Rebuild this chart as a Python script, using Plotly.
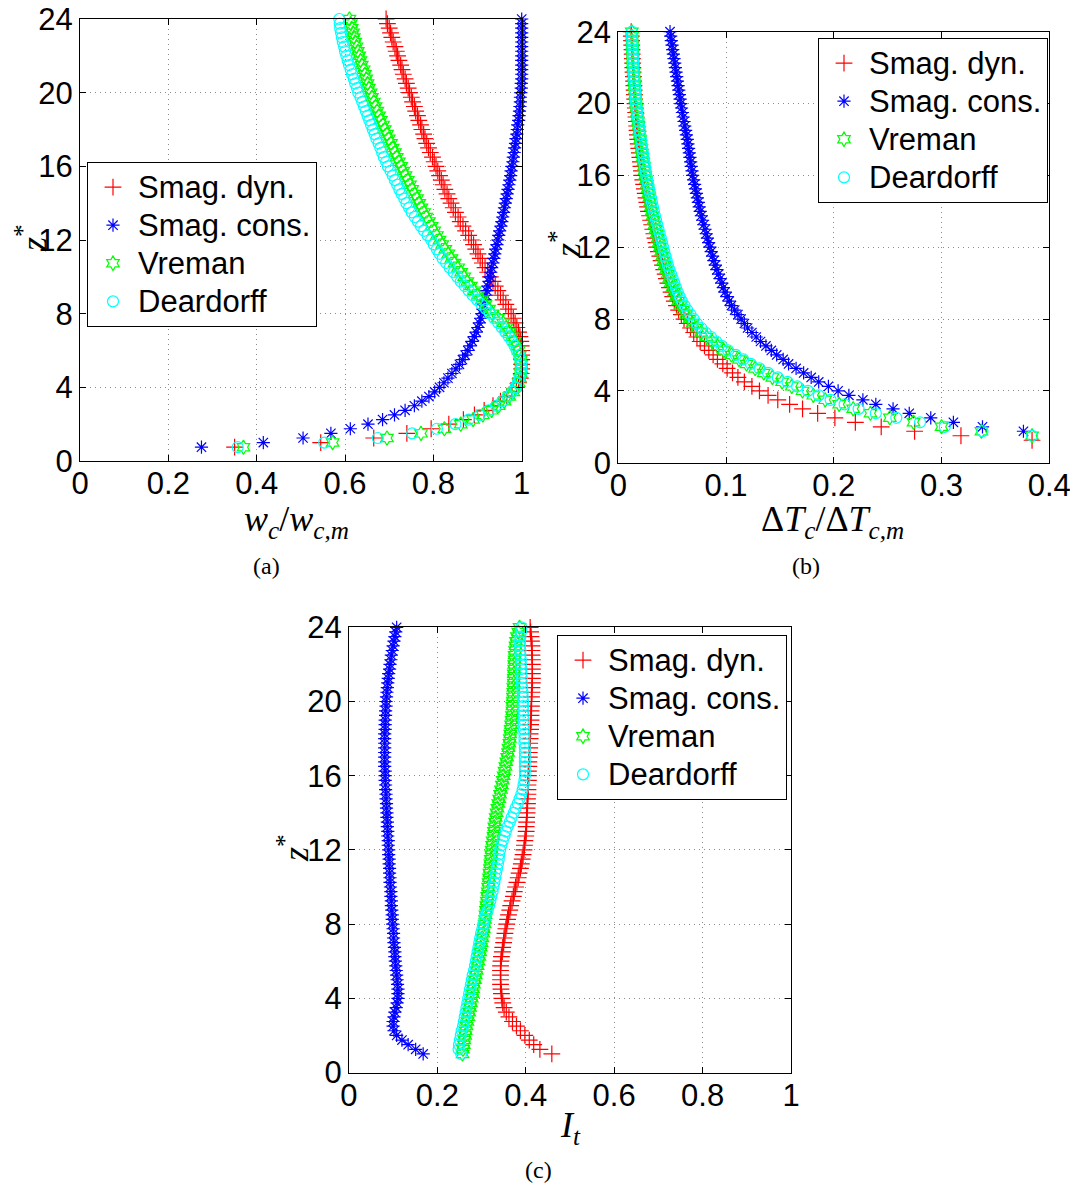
import plotly.graph_objects as go

# ---------------- data ----------------
z_levels = [0.75, 1.0, 1.25, 1.5, 1.75, 2.0, 2.25, 2.5, 2.75, 3.0, 3.25, 3.5, 3.75, 4.0,
            4.25, 4.5, 4.75, 5.0, 5.25, 5.5, 5.75, 6.0,
            6.25, 6.5, 6.75, 7.0, 7.25, 7.5, 7.75, 8.0,
            8.25, 8.5, 8.75, 9.0, 9.25, 9.5, 9.75, 10.0,
            10.25, 10.5, 10.75, 11.0, 11.25, 11.5, 11.75, 12.0,
            12.25, 12.5, 12.75, 13.0, 13.25, 13.5, 13.75, 14.0,
            14.25, 14.5, 14.75, 15.0, 15.25, 15.5, 15.75, 16.0,
            16.25, 16.5, 16.75, 17.0, 17.25, 17.5, 17.75, 18.0,
            18.25, 18.5, 18.75, 19.0, 19.25, 19.5, 19.75, 20.0,
            20.25, 20.5, 20.75, 21.0, 21.25, 21.5, 21.75, 22.0,
            22.25, 22.5, 22.75, 23.0, 23.25, 23.5, 23.75, 24.0]

series_names = ["Smag. dyn.", "Smag. cons.", "Vreman", "Deardorff"]

# (a) w_c / w_c,m
wc_dyn = [0.350, 0.545, 0.665, 0.740, 0.795, 0.835, 0.868, 0.893, 0.915, 0.935, 0.952, 0.966, 0.978, 0.988,
          0.993, 0.997, 0.999, 1.000, 1.000, 1.000, 1.000, 1.000,
          0.999, 0.998, 0.996, 0.993, 0.989, 0.985, 0.981, 0.976,
          0.970, 0.964, 0.958, 0.952, 0.946, 0.940, 0.935, 0.929,
          0.923, 0.917, 0.911, 0.906, 0.901, 0.896, 0.891, 0.886,
          0.880, 0.873, 0.867, 0.861, 0.856, 0.850, 0.845, 0.840,
          0.835, 0.831, 0.826, 0.822, 0.818, 0.814, 0.810, 0.806,
          0.802, 0.798, 0.793, 0.789, 0.785, 0.781, 0.778, 0.774,
          0.771, 0.767, 0.764, 0.760, 0.757, 0.753, 0.750, 0.746,
          0.743, 0.739, 0.736, 0.732, 0.729, 0.726, 0.722, 0.719,
          0.716, 0.713, 0.709, 0.706, 0.703, 0.700, 0.696, 0.693]
wc_cons = [0.275, 0.415, 0.505, 0.568, 0.612, 0.652, 0.685, 0.712, 0.736, 0.757, 0.774, 0.790, 0.803, 0.814,
           0.824, 0.833, 0.842, 0.851, 0.859, 0.866, 0.872, 0.878,
           0.883, 0.888, 0.893, 0.897, 0.901, 0.904, 0.907, 0.910,
           0.912, 0.914, 0.917, 0.919, 0.921, 0.923, 0.926, 0.928,
           0.930, 0.932, 0.935, 0.937, 0.939, 0.941, 0.944, 0.946,
           0.948, 0.950, 0.953, 0.955, 0.957, 0.959, 0.961, 0.963,
           0.965, 0.967, 0.969, 0.971, 0.973, 0.975, 0.976, 0.978,
           0.980, 0.981, 0.983, 0.984, 0.986, 0.987, 0.989, 0.990,
           0.991, 0.993, 0.994, 0.995, 0.996, 0.997, 0.997, 0.998,
           0.999, 0.999, 1.000, 1.000, 1.000, 1.000, 1.000, 1.000,
           1.000, 1.000, 1.000, 1.000, 1.000, 1.000, 1.000, 1.000]
wc_vreman = [0.370, 0.572, 0.695, 0.772, 0.825, 0.862, 0.890, 0.912, 0.932, 0.948, 0.961, 0.972, 0.981, 0.988,
             0.993, 0.996, 0.998, 0.999, 0.999, 0.998, 0.996, 0.993,
             0.989, 0.984, 0.978, 0.972, 0.965, 0.958, 0.946, 0.934,
             0.926, 0.918, 0.910, 0.901, 0.893, 0.885, 0.877, 0.870,
             0.863, 0.856, 0.848, 0.841, 0.834, 0.827, 0.820, 0.814,
             0.808, 0.802, 0.796, 0.790, 0.784, 0.779, 0.773, 0.768,
             0.763, 0.758, 0.752, 0.747, 0.742, 0.737, 0.732, 0.727,
             0.722, 0.717, 0.713, 0.708, 0.704, 0.699, 0.695, 0.690,
             0.686, 0.681, 0.677, 0.673, 0.669, 0.665, 0.661, 0.658,
             0.654, 0.651, 0.648, 0.645, 0.642, 0.638, 0.635, 0.632,
             0.629, 0.626, 0.623, 0.620, 0.618, 0.615, 0.613, 0.610]
wc_deard = [0.357, 0.553, 0.674, 0.752, 0.808, 0.850, 0.880, 0.905, 0.925, 0.942, 0.956, 0.968, 0.978, 0.986,
            0.991, 0.995, 0.998, 0.999, 0.999, 0.997, 0.994, 0.989,
            0.984, 0.978, 0.971, 0.963, 0.955, 0.947, 0.938, 0.928,
            0.919, 0.909, 0.899, 0.889, 0.880, 0.871, 0.862, 0.854,
            0.846, 0.837, 0.829, 0.821, 0.814, 0.808, 0.801, 0.795,
            0.787, 0.779, 0.772, 0.765, 0.758, 0.751, 0.745, 0.739,
            0.734, 0.728, 0.723, 0.718, 0.713, 0.708, 0.703, 0.697,
            0.693, 0.688, 0.684, 0.680, 0.676, 0.671, 0.667, 0.663,
            0.659, 0.655, 0.651, 0.647, 0.643, 0.639, 0.635, 0.630,
            0.627, 0.623, 0.620, 0.616, 0.613, 0.609, 0.606, 0.603,
            0.600, 0.598, 0.595, 0.593, 0.591, 0.589, 0.588, 0.587]

# (b) dT_c / dT_c,m   (None = outside the plotted range)
dt_dyn = [None, None, 0.384, 0.318, 0.275, 0.244, 0.220, 0.201, 0.185, 0.171, 0.159, 0.148, 0.139, 0.131,
          0.124, 0.117, 0.111, 0.106, 0.101, 0.097, 0.092, 0.088,
          0.084, 0.080, 0.076, 0.073, 0.070, 0.067, 0.064, 0.061,
          0.0585, 0.056, 0.054, 0.052, 0.0505, 0.049, 0.0475, 0.046,
          0.0447, 0.0435, 0.0422, 0.041, 0.0397, 0.0385, 0.0372, 0.036,
          0.035, 0.034, 0.033, 0.032, 0.031, 0.030, 0.029, 0.028,
          0.0272, 0.0265, 0.0257, 0.025, 0.0242, 0.0235, 0.0227, 0.022,
          0.0215, 0.021, 0.0205, 0.020, 0.0195, 0.019, 0.0185, 0.018,
          0.0177, 0.0174, 0.0171, 0.0168, 0.0164, 0.0161, 0.0158, 0.0155,
          0.0152, 0.015, 0.0147, 0.0145, 0.0142, 0.014, 0.0137, 0.0135,
          0.0133, 0.0131, 0.0129, 0.0127, 0.0125, 0.0123, 0.0121, 0.012]
dt_cons = [None, None, None, None, 0.376, 0.338, 0.311, 0.290, 0.270, 0.255, 0.239, 0.227, 0.214, 0.204,
           0.195, 0.186, 0.179, 0.172, 0.165, 0.158, 0.153, 0.147,
           0.142, 0.137, 0.132, 0.128, 0.124, 0.120, 0.117, 0.114,
           0.111, 0.108, 0.105, 0.103, 0.101, 0.099, 0.0975, 0.096,
           0.0945, 0.093, 0.0915, 0.090, 0.0887, 0.0875, 0.0862, 0.085,
           0.0838, 0.0827, 0.0816, 0.0805, 0.0793, 0.0782, 0.0771, 0.076,
           0.0751, 0.0743, 0.0734, 0.0725, 0.0716, 0.0708, 0.0699, 0.069,
           0.0684, 0.0677, 0.0671, 0.0665, 0.0659, 0.0652, 0.0646, 0.064,
           0.0632, 0.0625, 0.0617, 0.061, 0.0602, 0.0595, 0.0587, 0.058,
           0.0574, 0.0567, 0.0561, 0.0555, 0.0549, 0.0542, 0.0536, 0.053,
           0.0524, 0.0517, 0.0511, 0.0505, 0.0499, 0.0492, 0.0486, 0.048]
dt_vreman = [None, None, None, 0.384, 0.337, 0.300, 0.274, 0.252, 0.234, 0.218, 0.205, 0.192, 0.181, 0.171,
             0.161, 0.152, 0.143, 0.135, 0.127, 0.119, 0.112, 0.105,
             0.098, 0.092, 0.087, 0.082, 0.077, 0.073, 0.069, 0.066,
             0.063, 0.060, 0.0578, 0.0555, 0.0535, 0.0517, 0.0501, 0.0485,
             0.0471, 0.0457, 0.0443, 0.043, 0.0418, 0.0407, 0.0396, 0.0386,
             0.0376, 0.0366, 0.0356, 0.0346, 0.0337, 0.0328, 0.0319, 0.031,
             0.0302, 0.0294, 0.0287, 0.028, 0.0272, 0.0265, 0.0257, 0.025,
             0.0244, 0.0238, 0.0232, 0.0226, 0.022, 0.0214, 0.0208, 0.0203,
             0.0198, 0.0193, 0.0188, 0.0183, 0.0178, 0.0173, 0.0168, 0.0163,
             0.016, 0.0157, 0.0154, 0.0151, 0.0148, 0.0145, 0.0142, 0.0139,
             0.0137, 0.0135, 0.0133, 0.0131, 0.013, 0.0128, 0.0126, 0.0125]
dt_deard = [None, None, None, 0.384, 0.338, 0.303, 0.280, 0.258, 0.239, 0.223, 0.210, 0.197, 0.186, 0.176,
            0.166, 0.157, 0.148, 0.139, 0.131, 0.123, 0.116, 0.109,
            0.102, 0.096, 0.091, 0.086, 0.081, 0.077, 0.073, 0.070,
            0.067, 0.064, 0.0615, 0.059, 0.057, 0.0552, 0.0535, 0.052,
            0.0505, 0.049, 0.0475, 0.046, 0.0449, 0.0438, 0.0427, 0.0417,
            0.0406, 0.0395, 0.0384, 0.0373, 0.0362, 0.0351, 0.034, 0.033,
            0.0321, 0.0312, 0.0304, 0.0295, 0.0286, 0.0277, 0.0269, 0.026,
            0.0254, 0.0247, 0.0241, 0.0235, 0.0229, 0.0222, 0.0216, 0.021,
            0.0204, 0.0198, 0.0193, 0.0187, 0.0182, 0.0176, 0.0171, 0.0165,
            0.0162, 0.0159, 0.0156, 0.0153, 0.0149, 0.0146, 0.0143, 0.014,
            0.0138, 0.0136, 0.0134, 0.0132, 0.0131, 0.0129, 0.0127, 0.0125]

# (c) I_t
it_dyn = [None, 0.459, 0.432, 0.418, 0.408, 0.398, 0.388, 0.379, 0.370, 0.362, 0.356, 0.351, 0.348, 0.346,
          0.345, 0.344, 0.343, 0.343, 0.343, 0.343, 0.343, 0.344,
          0.345, 0.347, 0.348, 0.350, 0.351, 0.353, 0.355, 0.357,
          0.359, 0.361, 0.364, 0.366, 0.369, 0.372, 0.374, 0.377,
          0.380, 0.383, 0.385, 0.388, 0.390, 0.392, 0.394, 0.396,
          0.397, 0.398, 0.400, 0.401, 0.401, 0.402, 0.402, 0.403,
          0.403, 0.404, 0.404, 0.405, 0.405, 0.405, 0.406, 0.406,
          0.406, 0.407, 0.407, 0.408, 0.408, 0.409, 0.409, 0.410,
          0.410, 0.411, 0.411, 0.412, 0.412, 0.412, 0.413, 0.413,
          0.413, 0.414, 0.414, 0.415, 0.415, 0.415, 0.415, 0.415,
          0.415, 0.414, 0.414, 0.414, 0.413, 0.412, 0.411, 0.410]
it_cons = [None, 0.168, 0.151, 0.134, 0.120, 0.108, 0.102, 0.100, 0.100, 0.102, 0.104, 0.107, 0.109, 0.111,
           0.111, 0.111, 0.110, 0.109, 0.108, 0.107, 0.106, 0.105,
           0.104, 0.104, 0.103, 0.102, 0.101, 0.101, 0.100, 0.099,
           0.098, 0.098, 0.097, 0.096, 0.096, 0.095, 0.095, 0.094,
           0.093, 0.093, 0.092, 0.092, 0.091, 0.091, 0.090, 0.090,
           0.089, 0.089, 0.088, 0.088, 0.087, 0.087, 0.086, 0.086,
           0.085, 0.085, 0.084, 0.084, 0.083, 0.083, 0.082, 0.082,
           0.082, 0.081, 0.081, 0.081, 0.081, 0.081, 0.081, 0.081,
           0.081, 0.082, 0.082, 0.082, 0.083, 0.083, 0.084, 0.084,
           0.085, 0.086, 0.087, 0.088, 0.089, 0.090, 0.092, 0.093,
           0.095, 0.096, 0.098, 0.100, 0.102, 0.104, 0.106, 0.108]
it_vreman = [None, 0.257, 0.258, 0.260, 0.261, 0.263, 0.264, 0.266, 0.268, 0.270, 0.272, 0.274, 0.276, 0.278,
             0.280, 0.281, 0.283, 0.285, 0.287, 0.289, 0.291, 0.293,
             0.295, 0.297, 0.298, 0.300, 0.302, 0.304, 0.305, 0.307,
             0.308, 0.309, 0.310, 0.311, 0.312, 0.313, 0.314, 0.315,
             0.316, 0.317, 0.318, 0.319, 0.320, 0.321, 0.322, 0.323,
             0.324, 0.325, 0.327, 0.328, 0.329, 0.331, 0.332, 0.334,
             0.336, 0.338, 0.340, 0.342, 0.344, 0.346, 0.348, 0.350,
             0.352, 0.354, 0.356, 0.358, 0.360, 0.361, 0.363, 0.364,
             0.365, 0.366, 0.367, 0.368, 0.369, 0.370, 0.370, 0.371,
             0.371, 0.372, 0.372, 0.373, 0.373, 0.373, 0.374, 0.374,
             0.375, 0.375, 0.376, 0.377, 0.378, 0.380, 0.383, 0.386]
it_deard = [None, 0.254, 0.248, 0.249, 0.251, 0.253, 0.255, 0.258, 0.260, 0.262, 0.264, 0.266, 0.268, 0.270,
            0.272, 0.274, 0.276, 0.278, 0.280, 0.283, 0.285, 0.287,
            0.289, 0.291, 0.293, 0.295, 0.297, 0.299, 0.302, 0.304,
            0.307, 0.310, 0.314, 0.317, 0.320, 0.322, 0.325, 0.327,
            0.329, 0.331, 0.333, 0.335, 0.337, 0.339, 0.340, 0.342,
            0.345, 0.348, 0.352, 0.355, 0.359, 0.364, 0.368, 0.373,
            0.377, 0.382, 0.386, 0.390, 0.393, 0.395, 0.397, 0.398,
            0.398, 0.398, 0.398, 0.398, 0.398, 0.398, 0.397, 0.397,
            0.397, 0.396, 0.396, 0.396, 0.395, 0.395, 0.394, 0.394,
            0.393, 0.393, 0.392, 0.391, 0.391, 0.390, 0.390, 0.389,
            0.389, 0.388, 0.388, 0.387, 0.387, 0.388, 0.389, 0.390]

x_ticks_a = [0, 0.2, 0.4, 0.6, 0.8, 1]
x_ticks_b = [0, 0.1, 0.2, 0.3, 0.4]
y_ticks = [0, 4, 8, 12, 16, 20, 24]

# ---------------- styling ----------------
OFF = 8                      # page body margin of the browser
W, H = 1078 - OFF, 1185 - OFF
colors = ["#ff0000", "#0000ff", "#00ff00", "#00ffff"]
symbols = ["cross-thin-open", "asterisk-open", "hexagram-open", "circle-open"]
sizes = [12, 11, 11, 11]

def px(x):   # screen x -> paper fraction
    return (x - OFF) / W

def py(y):   # screen y -> paper fraction
    return 1 - (y - OFF) / H

panels = [
    dict(xs=[wc_dyn, wc_cons, wc_vreman, wc_deard], xaxis="x", yaxis="y", legend="legend"),
    dict(xs=[dt_dyn, dt_cons, dt_vreman, dt_deard], xaxis="x2", yaxis="y2", legend="legend2"),
    dict(xs=[it_dyn, it_cons, it_vreman, it_deard], xaxis="x3", yaxis="y3", legend="legend3"),
]

fig = go.Figure()
for p in panels:
    for i, name in enumerate(series_names):
        fig.add_trace(go.Scatter(
            x=p["xs"][i], y=z_levels, mode="markers",
            name='<span style="font-size:31px">' + name + '</span>',
            xaxis=p["xaxis"], yaxis=p["yaxis"], legend=p["legend"],
            cliponaxis=False,
            marker=dict(symbol=symbols[i], size=sizes[i], color=colors[i],
                        line=dict(color=colors[i], width=1.2)),
        ))

# screen-pixel boxes of the three axes (left, right, top, bottom)
boxes = {
    "a": (80.0, 521.7, 19.0, 461.0),
    "b": (618.3, 1049.3, 31.7, 462.7),
    "c": (348.9, 791.0, 627.3, 1072.5),
}

tickfont = dict(family="Liberation Sans, Arial, sans-serif", size=31, color="black")
common_axis = dict(showline=True, linecolor="black", linewidth=1, mirror="ticks",
                   ticks="inside", ticklen=6, tickcolor="black", tickwidth=1,
                   showgrid=True, gridcolor="#8c8c8c", gridwidth=1, griddash="1px,4px",
                   zeroline=False, tickfont=tickfont, automargin=False,
                   ticklabeloverflow="allow")

layout_axes = {}
for key, ax in [("a", ""), ("b", "2"), ("c", "3")]:
    b = boxes[key]
    xt = x_ticks_b if key == "b" else x_ticks_a
    xr = [0, 0.4] if key == "b" else [0, 1]
    layout_axes["xaxis" + ax] = dict(common_axis, domain=[px(b[0]), px(b[1])], range=xr,
                                     tickvals=xt, ticktext=[f"{v:g}" for v in xt],
                                     anchor="y" + ax, ticklabelstandoff=-5)
    layout_axes["yaxis" + ax] = dict(common_axis, domain=[py(b[3]), py(b[2])], range=[0, 24],
                                     tickvals=y_ticks, ticktext=[str(v) for v in y_ticks],
                                     anchor="x" + ax, ticklabelstandoff=0)

legfont = dict(family="Liberation Sans, Arial, sans-serif", size=27, color="black")
def legend_at(x, y):
    return dict(x=px(x), y=py(y), xanchor="left", yanchor="top",
                bgcolor="white", bordercolor="black", borderwidth=1,
                font=legfont, itemwidth=40, tracegroupgap=0)

serif = "Liberation Serif, Times New Roman, serif"
tfont = dict(family=serif, size=36, color="black")
cfont = dict(family=serif, size=24, color="black")

def note(x, y, text, font, angle=0):
    return dict(x=px(x), y=py(y), text=text, font=font, textangle=angle,
                xanchor="center", yanchor="middle", showarrow=False,
                xref="paper", yref="paper")

annotations = [
    note(296, 521, "<i>w</i><sub><i>c</i></sub>/<i>w</i><sub><i>c,m</i></sub>", tfont),
    note(832, 521, "Δ<i>T</i><sub><i>c</i></sub>/Δ<i>T</i><sub><i>c,m</i></sub>", tfont),
    note(570, 1127, "<i>I</i><sub><i>t</i></sub>", tfont),
    note(31, 238, "<i>z</i><sup>*</sup>", tfont, -90),
    note(565, 244, "<i>z</i><sup>*</sup>", tfont, -90),
    note(293, 848, "<i>z</i><sup>*</sup>", tfont, -90),
    note(266, 566, "(a)", cfont),
    note(806, 566, "(b)", cfont),
    note(538, 1170, "(c)", cfont),
]

fig.update_layout(
    width=W, height=H, autosize=False,
    margin=dict(l=0, r=0, t=0, b=0, autoexpand=False),
    paper_bgcolor="white", plot_bgcolor="white",
    showlegend=True,
    legend=legend_at(87, 162),
    legend2=legend_at(818, 38),
    legend3=legend_at(557, 635),
    annotations=annotations,
    **layout_axes,
)

fig.write_html("out.html")
